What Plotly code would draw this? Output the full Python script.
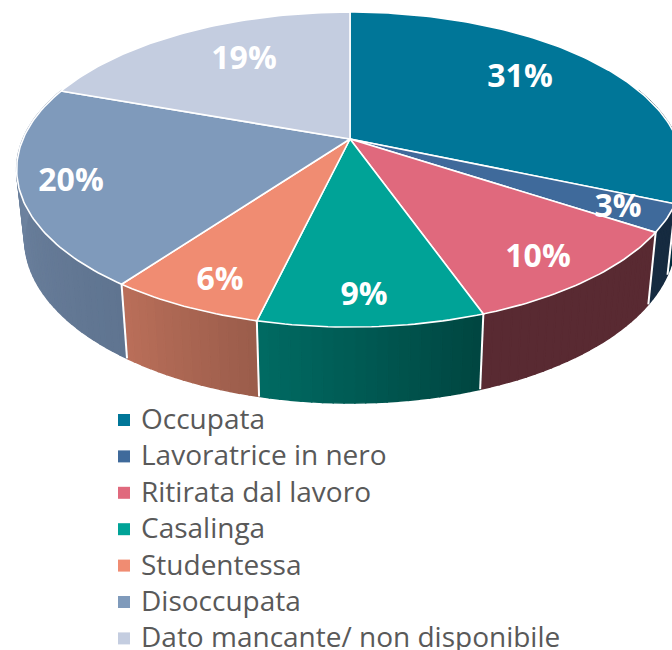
import math

import plotly.graph_objects as go

# shares; the printed labels round them
CATEGORIES = [
    "Occupata",
    "Lavoratrice in nero",
    "Ritirata dal lavoro",
    "Casalinga",
    "Studentessa",
    "Disoccupata",
    "Dato mancante/ non disponibile",
]
SHARES = [31.4, 2.8, 10.3, 9.1, 6.3, 20.4, 19.49]

TOP_COLORS = ["#007698", "#3F6A9B", "#E0697D", "#00A397", "#F08C72", "#7F9ABB", "#C4CDE0"]
# side wall shading, going clockwise along each slice
WALL_START = [(0, 44, 60), (22, 43, 64), (89, 42, 50), (0, 69, 64), (154, 92, 74), (95, 116, 144), (150, 160, 180)]
WALL_END = [(0, 44, 60), (22, 43, 64), (89, 42, 50), (0, 107, 99), (186, 111, 90), (116, 137, 166), (150, 160, 180)]

# pie drawn in page pixels, tilted with a perspective term
CX, CY = 350, 139
RX, RY = 327, 151.6
TILT = -0.194
WALL_X_SCALE = 0.976
WALL_Y_SCALE = 1.041
WALL_Y_SHIFT = 62.5

# where each percentage sits on the pie
PCT_X = [520, 618, 538, 364, 220, 71, 244]
PCT_Y = [79, 209, 259, 297, 282, 183, 61]

LEGEND_MARK_X = 124
LEGEND_TEXT_X = 141
LEGEND_TOP = 420
LEGEND_STEP = 36.4
LEGEND_TEXT_DROP = 2


def top_point(theta, r=1.0):
    u = r * math.sin(theta)
    v = -r * math.cos(theta)
    d = 1 + TILT * v
    return CX + RX * u / d, CY + RY * v / d


def wall_point(theta):
    x, y = top_point(theta)
    return CX + (x - CX) * WALL_X_SCALE, y * WALL_Y_SCALE + WALL_Y_SHIFT


total = sum(SHARES)
edges = [0.0]
for s in SHARES:
    edges.append(edges[-1] + s / total * 2 * math.pi)

fig = go.Figure()

# walls first, the top surface covers whatever is behind it
FRONT_FROM, FRONT_TO = math.radians(70), math.radians(290)
for i in range(len(SHARES)):
    a0, a1 = max(edges[i], FRONT_FROM), min(edges[i + 1], FRONT_TO)
    if a1 <= a0:
        continue
    n = max(2, int(math.degrees(a1 - a0) / 1.5))
    for k in range(n):
        t0 = a0 + (a1 - a0) * k / n
        t1 = a0 + (a1 - a0) * (k + 1) / n
        f = (k + 0.5) / n
        rgb = [round(p + (q - p) * f) for p, q in zip(WALL_START[i], WALL_END[i])]
        color = f"rgb({rgb[0]},{rgb[1]},{rgb[2]})"
        p = [top_point(t0), top_point(t1), wall_point(t1), wall_point(t0), top_point(t0)]
        fig.add_trace(
            go.Scatter(
                x=[q[0] for q in p],
                y=[q[1] for q in p],
                mode="lines",
                fill="toself",
                fillcolor=color,
                line=dict(color=color, width=1.5),
                hoverinfo="skip",
            )
        )

# white dividers on the wall
for e in edges[1:]:
    if FRONT_FROM < e < FRONT_TO:
        a, b = top_point(e), wall_point(e)
        fig.add_trace(
            go.Scatter(
                x=[a[0], b[0]],
                y=[a[1], b[1]],
                mode="lines",
                line=dict(color="white", width=2),
                hoverinfo="skip",
            )
        )

# top surface
for i in range(len(SHARES)):
    n = max(4, int(math.degrees(edges[i + 1] - edges[i])))
    arc = [top_point(edges[i] + (edges[i + 1] - edges[i]) * k / n) for k in range(n + 1)]
    xs = [CX] + [q[0] for q in arc] + [CX]
    ys = [CY] + [q[1] for q in arc] + [CY]
    fig.add_trace(
        go.Scatter(
            x=xs,
            y=ys,
            mode="lines",
            fill="toself",
            fillcolor=TOP_COLORS[i],
            line=dict(color="white", width=1.6),
            hoverinfo="skip",
        )
    )

fig.add_trace(
    go.Scatter(
        x=PCT_X,
        y=PCT_Y,
        mode="text",
        text=[f"{s:.0f}%" for s in SHARES],
        textposition="middle center",
        textfont=dict(family="Open Sans", size=32, color="white", weight="bold"),
        hoverinfo="skip",
    )
)

# legend rows
legend_y = [LEGEND_TOP + i * LEGEND_STEP for i in range(len(CATEGORIES))]
fig.add_trace(
    go.Scatter(
        x=[LEGEND_MARK_X] * len(CATEGORIES),
        y=legend_y,
        mode="markers",
        marker=dict(symbol="square", size=12, color=TOP_COLORS),
        hoverinfo="skip",
    )
)
fig.add_trace(
    go.Scatter(
        x=[LEGEND_TEXT_X] * len(CATEGORIES),
        y=[y + LEGEND_TEXT_DROP for y in legend_y],
        mode="text",
        text=CATEGORIES,
        textposition="middle right",
        textfont=dict(family="Open Sans", size=28, color="#595959"),
        hoverinfo="skip",
    )
)

fig.update_layout(
    width=672,
    height=650,
    margin=dict(l=0, r=0, t=0, b=0),
    paper_bgcolor="white",
    plot_bgcolor="white",
    showlegend=False,
    xaxis=dict(range=[0, 672], visible=False, fixedrange=True),
    yaxis=dict(range=[650, 0], visible=False, fixedrange=True),
)
# the page's default body margin would push the figure 8px off
fig.write_html(
    "out.html",
    config={"displayModeBar": False},
    post_script="document.body.style.margin = '0'; document.body.style.overflow = 'hidden';",
)
